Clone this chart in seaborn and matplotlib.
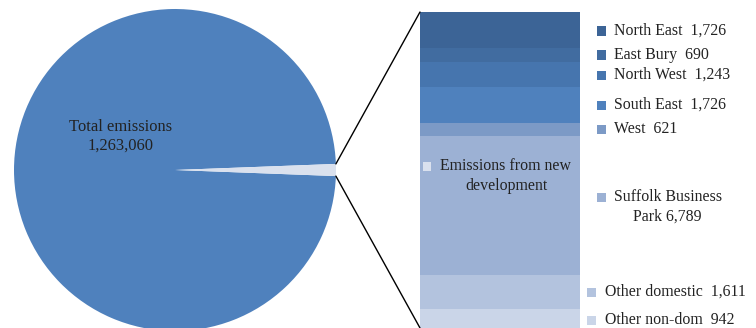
import matplotlib
matplotlib.use("Agg")
import matplotlib.pyplot as plt
import numpy as np
import seaborn as sns
from matplotlib.patches import ConnectionPatch, Rectangle

# Emissions data
pie_labels = ["Total emissions", "Emissions from new development"]
total_emissions = 1263060
areas = ["North East", "East Bury", "North West", "South East", "West",
         "Suffolk Business Park", "Other domestic", "Other non-dom"]
area_values = [1726, 690, 1243, 1726, 621, 6789, 1611, 942]
area_labels = ["North East  1,726", "East Bury  690", "North West  1,243",
               "South East  1,726", "West  621", "Suffolk Business\nPark 6,789",
               "Other domestic  1,611", "Other non-dom  942"]
new_dev = sum(area_values)

area_colors = ["#3c6496", "#416ca0", "#4675ae", "#4f81bd", "#7c9ac6",
               "#9cb1d4", "#b3c3de", "#cad5e8"]
pie_colors = ["#4f81bd", "#dae1ee"]

sns.set_theme(style="white")
plt.rcParams["font.family"] = ["Liberation Serif", "DejaVu Serif"]
TXT = "#222222"

W, H = 756, 328
fig = plt.figure(figsize=(W / 100, H / 100), dpi=100)


def fx(px):
    return px / W


def fy(py):
    return 1 - py / H


# Pie of total emissions
R = 161
cx, cy = 175, 170
ax_pie = fig.add_axes([fx(cx - R), fy(cy + R), 2 * R / W, 2 * R / H])
small_angle = new_dev / (total_emissions + new_dev) * 360
ax_pie.pie([total_emissions, new_dev], colors=pie_colors,
           startangle=small_angle / 2, counterclock=True,
           wedgeprops=dict(linewidth=0))
ax_pie.set_xlim(-1, 1)
ax_pie.set_ylim(-1, 1)
ax_pie.set_aspect("equal")
ax_pie.axis("off")

# Stacked bar breaking down new development
bar_top, bar_bottom = 12, 328
ax_bar = fig.add_axes([fx(420), fy(bar_bottom), 160 / W, (bar_bottom - bar_top) / H])
bottom = 0
for val, col in zip(reversed(area_values), reversed(area_colors)):
    sns.barplot(x=[0], y=[val], bottom=bottom, color=col, width=1,
                linewidth=0, saturation=1, ax=ax_bar)
    bottom += val
ax_bar.set_xlim(-0.5, 0.5)
ax_bar.set_ylim(0, new_dev)
ax_bar.axis("off")

# Connector lines from the slice edges to the bar
a1 = np.deg2rad(small_angle / 2)
for ang, yb in [(a1, new_dev), (-a1, 0)]:
    con = ConnectionPatch(xyA=(np.cos(ang), np.sin(ang)), coordsA=ax_pie.transData,
                          xyB=(-0.5, yb), coordsB=ax_bar.transData,
                          color="black", linewidth=1.0)
    fig.add_artist(con)

# Labels
fs = 11.4
fig.text(fx(121), fy(136), "Total emissions\n1,263,060", ha="center", va="center",
         fontsize=fs + 0.5, color=TXT, linespacing=1.2)


def square(px, py, col):
    fig.add_artist(Rectangle((fx(px - 4.5), fy(py + 4.5)), 9 / W, 9 / H,
                             transform=fig.transFigure, facecolor=col,
                             edgecolor="none"))


label_pos = [(601, 31, 614), (601, 55, 614), (601, 75, 614), (601, 105, 614),
             (601, 129, 614), (601, 197, 614), (591, 292, 605), (591, 320, 605)]
for (sx, sy, tx), lab, col in zip(label_pos, area_labels, area_colors):
    square(sx, sy, col)
    if "\n" in lab:
        l1, l2 = lab.split("\n")
        fig.text(fx(tx), fy(sy), l1, ha="left", va="center", fontsize=fs, color=TXT)
        fig.text(fx(667), fy(sy + 20), l2, ha="center", va="center", fontsize=fs, color=TXT)
    else:
        fig.text(fx(tx), fy(sy), lab, ha="left", va="center", fontsize=fs, color=TXT)

square(427, 166, pie_colors[1])
fig.text(fx(506), fy(166), "Emissions from new", ha="center", va="center",
         fontsize=fs, color=TXT)
fig.text(fx(506), fy(186), "development", ha="center", va="center",
         fontsize=fs, color=TXT)

fig.savefig("out.png", dpi=100)
